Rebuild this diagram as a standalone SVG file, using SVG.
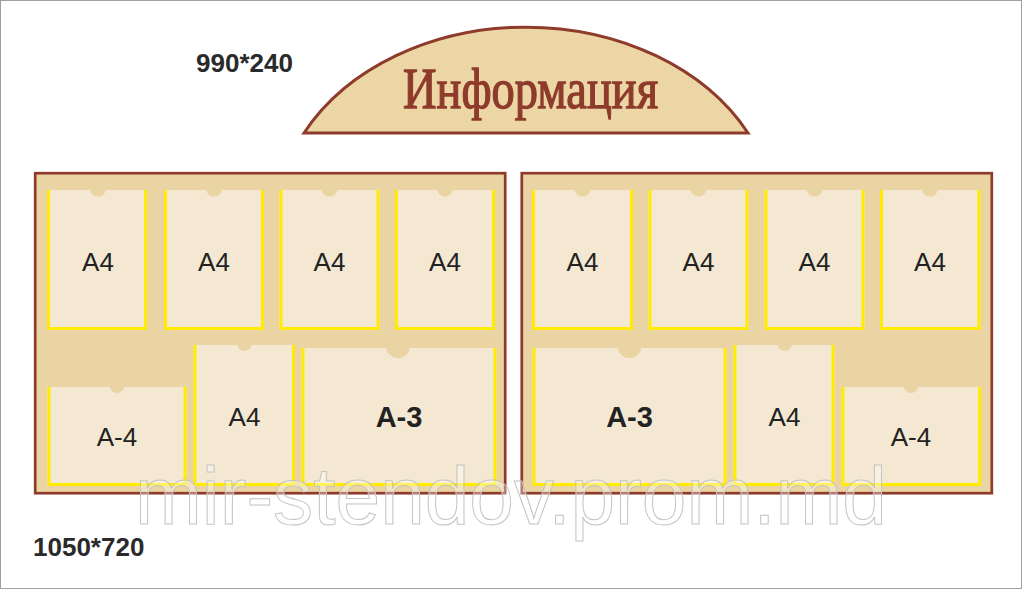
<svg xmlns="http://www.w3.org/2000/svg" width="1024" height="590" viewBox="0 0 1024 590">
<style>
.panel{fill:#EBD4A3;stroke:#8E3B2C;stroke-width:2.7}
.pk{fill:#F4E8D3}
.ye{fill:none;stroke:#FFEC00;stroke-width:3}
.nt{fill:#EBD4A3}
.lb{font-family:"Liberation Sans",Arial,sans-serif;font-size:26px;fill:#222;text-anchor:middle}
.lbb{font-family:"Liberation Sans",Arial,sans-serif;font-size:29px;font-weight:bold;fill:#222;text-anchor:middle}
.dim{font-family:"Liberation Sans",Arial,sans-serif;font-size:26px;font-weight:bold;fill:#2a2a2a}
</style>
<rect x="0.5" y="0.5" width="1021" height="588" fill="#fff" stroke="#a0a0a0" stroke-width="1"/>
<g id="title">
<path d="M304,133 A250,196 0 0 1 748,133 Z" fill="#EDD6A6" stroke="#8E3B2C" stroke-width="3"/>
<text x="530.5" y="108" font-family="Liberation Serif,serif" font-size="56" fill="#8E3B2C" stroke="#8E3B2C" stroke-width="1.3" text-anchor="middle" textLength="255" lengthAdjust="spacingAndGlyphs">Информация</text>
</g>
<g id="dim-top"><text class="dim" x="196" y="71.5">990*240</text></g>
<g id="dim-bottom"><text class="dim" x="33" y="556">1050*720</text></g>
<g id="panel-left">
<rect class="panel" x="35.2" y="173.2" width="470" height="320"/>
</g>
<g id="panel-right">
<rect class="panel" x="521.8" y="173.2" width="470" height="320"/>
</g>
<!-- left panel pockets -->
<g id="L1"><rect class="pk" x="47" y="190" width="100" height="140"/><path class="ye" d="M48.5,190V328.5H145.5V190"/><circle class="nt" cx="98" cy="188.5" r="8"/><text class="lb" x="98" y="271">A4</text></g>
<g id="L2"><rect class="pk" x="164" y="190" width="100" height="140"/><path class="ye" d="M165.5,190V328.5H262.5V190"/><circle class="nt" cx="214" cy="188.5" r="8"/><text class="lb" x="214" y="271">A4</text></g>
<g id="L3"><rect class="pk" x="279.5" y="190" width="100" height="140"/><path class="ye" d="M281,190V328.5H378V190"/><circle class="nt" cx="329.5" cy="188.5" r="8"/><text class="lb" x="329.5" y="271">A4</text></g>
<g id="L4"><rect class="pk" x="395" y="190" width="100" height="140"/><path class="ye" d="M396.5,190V328.5H493.5V190"/><circle class="nt" cx="445" cy="188.5" r="8"/><text class="lb" x="445" y="271">A4</text></g>
<g id="L5"><rect class="pk" x="47.5" y="387" width="139" height="99"/><path class="ye" d="M49,387V484.5H185V387"/><circle class="nt" cx="117" cy="385.5" r="7.5"/><text class="lb" x="117" y="446">A-4</text></g>
<g id="L6"><rect class="pk" x="193.5" y="345" width="101.5" height="141"/><path class="ye" d="M195,345V484.5H293.5V345"/><circle class="nt" cx="244.5" cy="343.5" r="7.5"/><text class="lb" x="244.5" y="426">A4</text></g>
<g id="L7"><rect class="pk" x="301.5" y="348" width="195" height="138"/><path class="ye" d="M303,348V484.5H495V348"/><circle class="nt" cx="398" cy="346" r="12"/><text class="lbb" x="399" y="427">A-3</text></g>
<!-- right panel pockets -->
<g id="R1"><rect class="pk" x="532" y="190" width="101" height="140"/><path class="ye" d="M533.5,190V328.5H631.5V190"/><circle class="nt" cx="582.5" cy="188.5" r="8"/><text class="lb" x="582.5" y="271">A4</text></g>
<g id="R2"><rect class="pk" x="648.5" y="190" width="100" height="140"/><path class="ye" d="M650,190V328.5H747V190"/><circle class="nt" cx="698.5" cy="188.5" r="8"/><text class="lb" x="698.5" y="271">A4</text></g>
<g id="R3"><rect class="pk" x="764.5" y="190" width="100" height="140"/><path class="ye" d="M766,190V328.5H863V190"/><circle class="nt" cx="814.5" cy="188.5" r="8"/><text class="lb" x="814.5" y="271">A4</text></g>
<g id="R4"><rect class="pk" x="880" y="190" width="100.5" height="140"/><path class="ye" d="M881.5,190V328.5H979V190"/><circle class="nt" cx="930" cy="188.5" r="8"/><text class="lb" x="930" y="271">A4</text></g>
<g id="R5"><rect class="pk" x="532.5" y="348" width="194" height="138"/><path class="ye" d="M534,348V484.5H725V348"/><circle class="nt" cx="629.5" cy="346" r="12"/><text class="lbb" x="629.5" y="427">A-3</text></g>
<g id="R6"><rect class="pk" x="733.5" y="345" width="101" height="141"/><path class="ye" d="M735,345V484.5H833V345"/><circle class="nt" cx="784.5" cy="343.5" r="7.5"/><text class="lb" x="784.5" y="426">A4</text></g>
<g id="R7"><rect class="pk" x="841.5" y="387" width="139.5" height="99"/><path class="ye" d="M843,387V484.5H979.5V387"/><circle class="nt" cx="911" cy="385.5" r="7.5"/><text class="lb" x="911" y="446">A-4</text></g>
<g id="connectors"></g>
<g id="watermark"><text x="135" y="524" font-family="Liberation Sans,Arial,sans-serif" font-size="82" fill="#ffffff" fill-opacity="0.35" stroke="#c4c4c4" stroke-width="1" textLength="752" lengthAdjust="spacingAndGlyphs">mir-stendov.prom.md</text></g>
</svg>
